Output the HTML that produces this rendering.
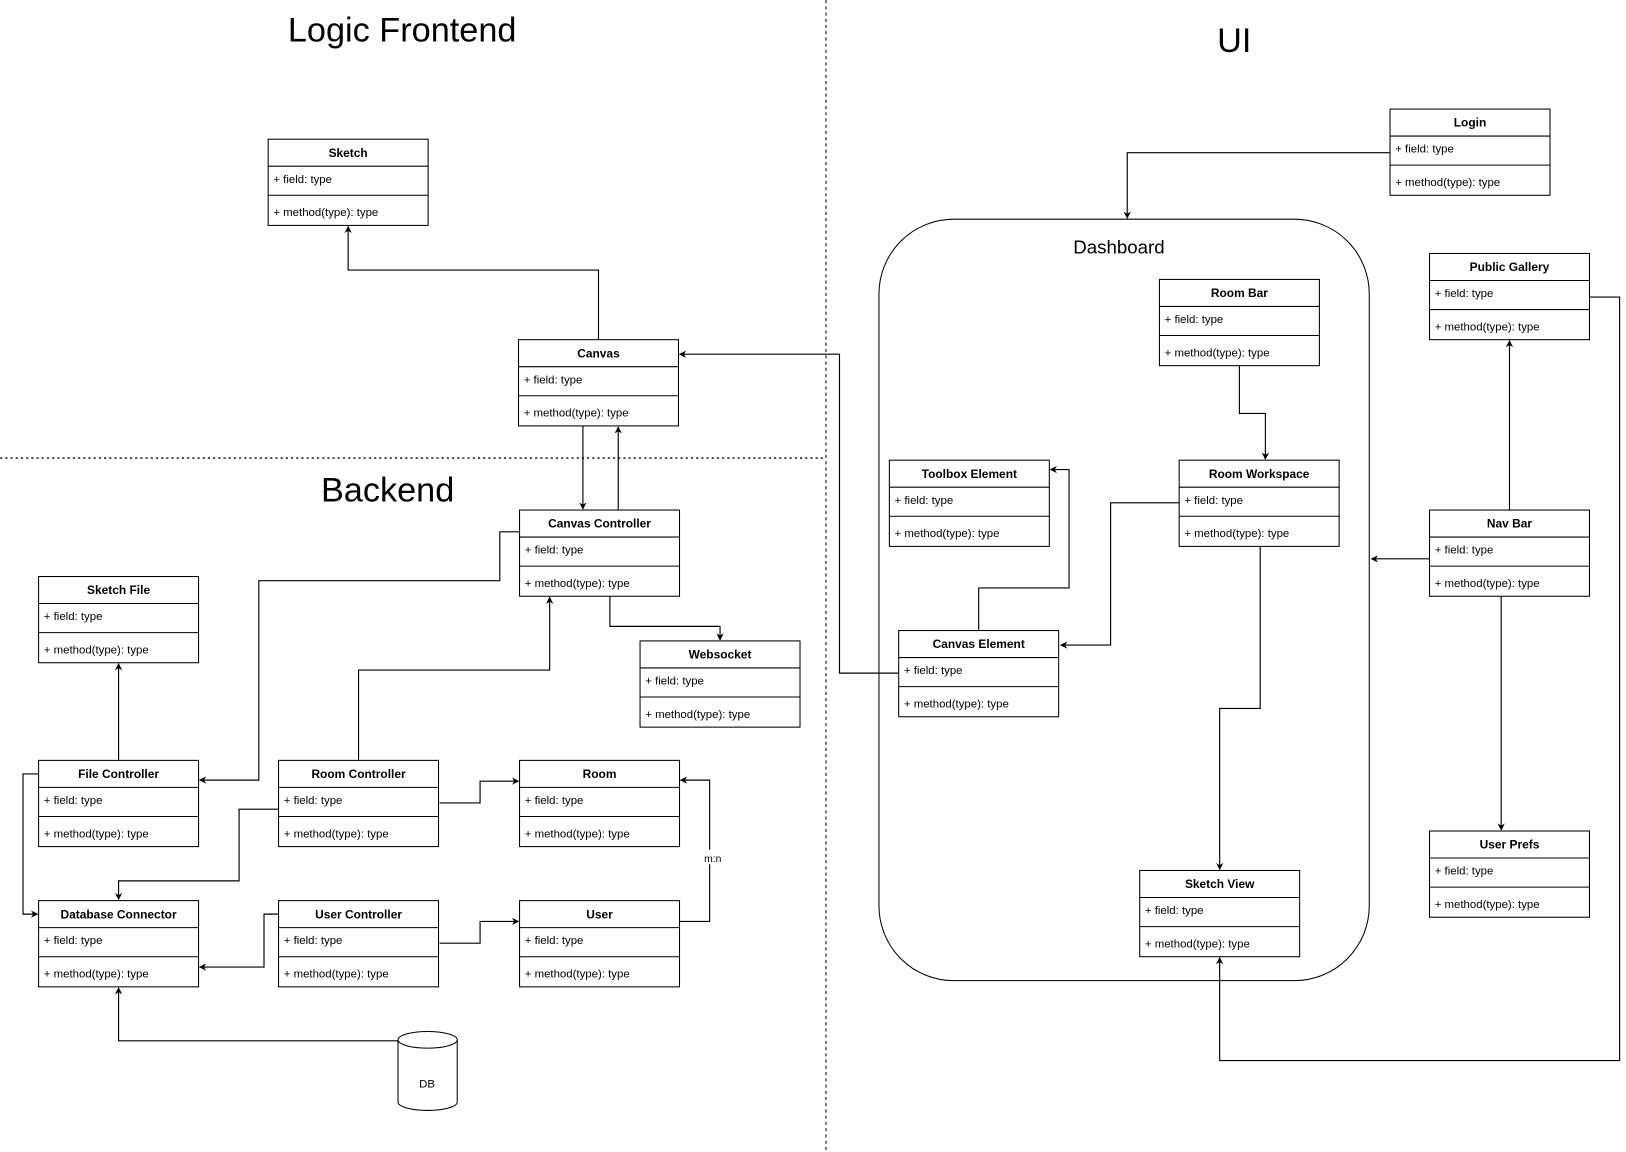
<!DOCTYPE html>
<html><head><meta charset="utf-8"><style>
html,body{margin:0;padding:0;background:#fff;width:1626px;height:1152px;overflow:hidden}
svg{display:block}
text{font-family:"Liberation Sans",Arial,sans-serif;fill:#000}
.h{font-size:11.5px;font-weight:bold}
.f{font-size:11px}
.b{fill:#fff;stroke:#000;stroke-width:1}
.e{fill:none;stroke:#000;stroke-width:1.1}
</style></head><body>
<svg width="1626" height="1152" viewBox="0 0 1565 1109" xmlns="http://www.w3.org/2000/svg">
<defs><marker id="a" viewBox="0 0 10 10" refX="9" refY="5" markerWidth="7" markerHeight="7" markerUnits="userSpaceOnUse" orient="auto"><path d="M0,0 L10,5 L0,10 L3,5 z" fill="#000"/></marker></defs>
<line x1="795" y1="0" x2="795" y2="1109" stroke="#000" stroke-dasharray="3,3"/>
<line x1="0" y1="441" x2="795" y2="441" stroke="#000" stroke-dasharray="2,3" stroke-width="1.3"/>
<text x="387" y="40" font-size="33" text-anchor="middle">Logic Frontend</text>
<text x="373" y="483" font-size="33" text-anchor="middle">Backend</text>
<text x="1188" y="50" font-size="33" text-anchor="middle">UI</text>
<rect x="846" y="211" width="472" height="733" rx="72" ry="72" fill="#fff" stroke="#000"/>
<text x="1077" y="244" font-size="18" text-anchor="middle">Dashboard</text>
<g class="e" marker-end="url(#a)">
<polyline points="576,327 576,260 335,260 335,218"/>
<polyline points="561,410 561,490"/>
<polyline points="595,491 595,411"/>
<polyline points="500,512 481,512 481,559 249,559 249,751 192,751"/>
<polyline points="587,574 587,603 693,603 693,616"/>
<polyline points="345,732 345,645 529,645 529,575"/>
<polyline points="114,732 114,639"/>
<polyline points="37,745 22,745 22,880 36,880"/>
<polyline points="268,779 230,779 230,848 114,848 114,866"/>
<polyline points="423,773 462,773 462,752 499,752"/>
<polyline points="268,880 254,880 254,931 192,931"/>
<polyline points="423,908 462,908 462,887 499,887"/>
<polyline points="654,887 683,887 683,751 655,751"/>
<polyline points="383,1002 114,1002 114,951"/>
<polyline points="865,648 808,648 808,341 654,341"/>
<polyline points="1338,147 1085,147 1085,210"/>
<polyline points="1193,352 1193,398 1218,398 1218,442"/>
<polyline points="1135,484 1069,484 1069,621 1021,621"/>
<polyline points="942,607 942,566 1029,566 1029,452 1011,452"/>
<polyline points="1213,526 1213,682 1174,682 1174,837"/>
<polyline points="1376,538 1320,538"/>
<polyline points="1453,491 1453,328"/>
<polyline points="1445,574 1445,799"/>
<polyline points="1530,286 1559,286 1559,1021 1174,1021 1174,922"/>
</g>
<rect x="676" y="818" width="16" height="14" fill="#fff"/>
<text x="686" y="830" font-size="10" text-anchor="middle">m:n</text>
<g>
<path d="M383,1001 v60 a28.5,8 0 0 0 57,0 v-60" fill="#fff" stroke="#000"/>
<ellipse cx="411.5" cy="1001" rx="28.5" ry="8" fill="#fff" stroke="#000"/>
<text x="411" y="1047" font-size="11" text-anchor="middle">DB</text>
</g>
<g id="boxes"></g>
<!-- class boxes -->
<g>
<!-- template: rect, header line, divider -->
</g>
</svg>
<script>
var B=[["Sketch",258,134],["Canvas",499,327],["Canvas Controller",500,491],["Sketch File",37,555],["Websocket",616,617],["File Controller",37,732],["Room Controller",268,732],["Room",500,732],["Database Connector",37,867],["User Controller",268,867],["User",500,867],["Login",1338,105],["Public Gallery",1376,244],["Room Bar",1116,269],["Toolbox Element",856,443],["Room Workspace",1135,443],["Nav Bar",1376,491],["Canvas Element",865,607],["User Prefs",1376,800],["Sketch View",1097,838]];
var g=document.getElementById("boxes"),s="";
B.forEach(function(b){var x=b[1],y=b[2];
s+='<rect class="b" x="'+x+'" y="'+y+'" width="154" height="83"/>'+
'<line x1="'+x+'" y1="'+(y+26)+'" x2="'+(x+154)+'" y2="'+(y+26)+'" stroke="#000"/>'+
'<line x1="'+x+'" y1="'+(y+54)+'" x2="'+(x+154)+'" y2="'+(y+54)+'" stroke="#000"/>'+
'<text class="h" x="'+(x+77)+'" y="'+(y+17)+'" text-anchor="middle">'+b[0]+'</text>'+
'<text class="f" x="'+(x+5)+'" y="'+(y+42)+'">+ field: type</text>'+
'<text class="f" x="'+(x+5)+'" y="'+(y+74)+'">+ method(type): type</text>';});
g.innerHTML=s;
</script>
</body></html>
